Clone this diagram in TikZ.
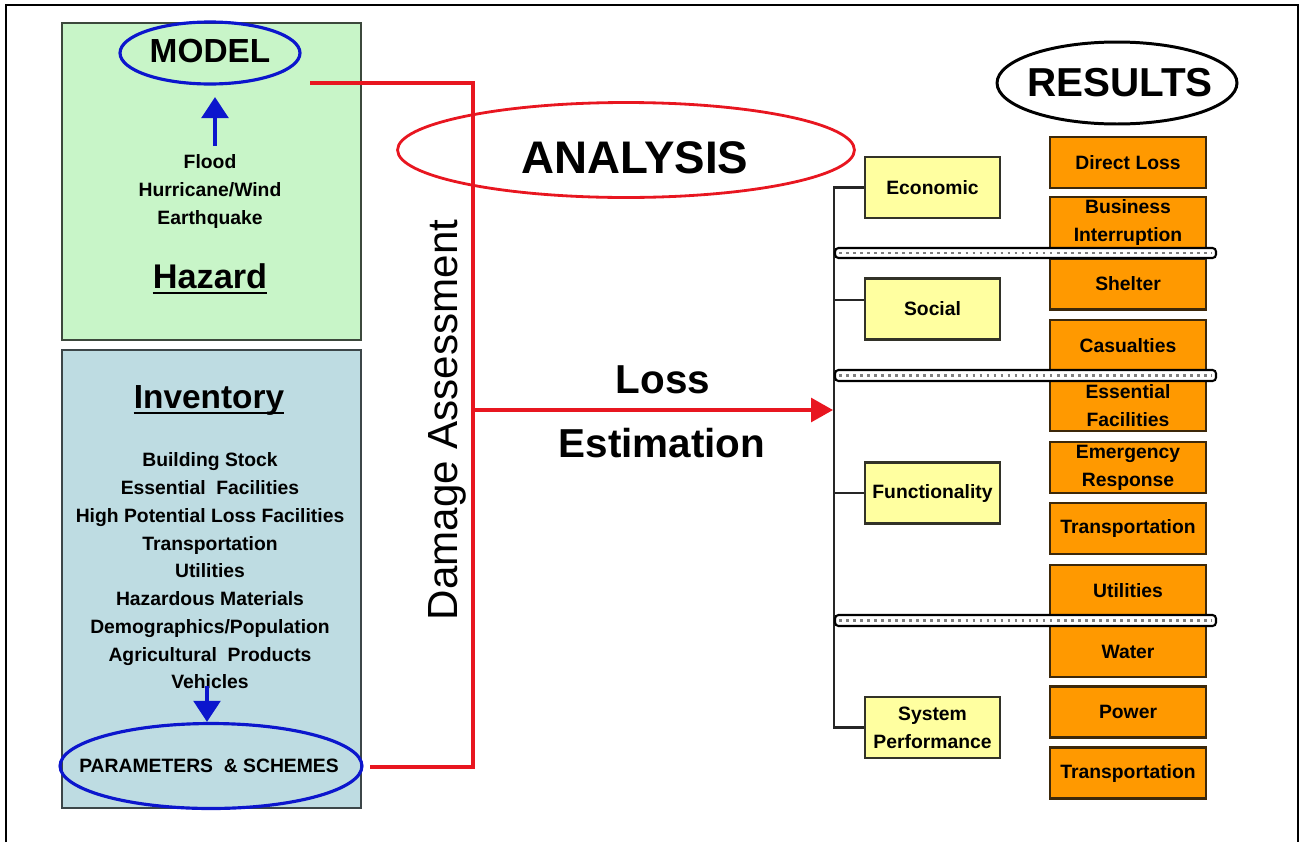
\documentclass[tikz,border=0pt]{standalone}
\usepackage{fontspec}
\setmainfont{Liberation Sans}
\usetikzlibrary{shapes.geometric,arrows.meta}
\definecolor{hzfill}{RGB}{200,245,200}
\definecolor{hzbord}{RGB}{60,72,60}
\definecolor{invfill}{RGB}{190,220,226}
\definecolor{invbord}{RGB}{60,70,72}
\definecolor{bluec}{RGB}{12,22,205}
\definecolor{redc}{RGB}{232,22,32}
\definecolor{yfill}{RGB}{255,255,160}
\definecolor{ybord}{RGB}{50,50,40}
\definecolor{orfill}{RGB}{255,153,0}
\definecolor{obord}{RGB}{60,40,10}
\tikzset{
 obox/.style={draw=obord, fill=orfill, line width=1.5pt, minimum width=3.12cm, minimum height=1.02cm, inner sep=0pt, align=center, font=\fontsize{11}{16}\selectfont\bfseries},
 ybox/.style={draw=ybord, fill=yfill, line width=1.3pt, minimum width=2.7cm, minimum height=1.22cm, inner sep=0pt, align=center, font=\fontsize{11}{16}\selectfont\bfseries},
 panel/.style={line width=1.5pt, inner sep=0pt, minimum width=5.98cm},
 smalltxt/.style={align=center, inner sep=0pt, font=\fontsize{11}{15.8}\selectfont\bfseries},
 redl/.style={draw=redc, line width=1.8pt},
 barrow/.style={draw=bluec, line width=2.6pt, -{Triangle[length=12pt,width=15pt]}},
 bandline/.style={draw=black, line width=1.2pt, fill=white, rounded corners=2pt},
 banddots/.style={draw=gray, line width=1.4pt, dash pattern=on 1.5pt off 2.5pt},
 busl/.style={draw=black!85, line width=1.2pt},
 ell/.style={ellipse, inner sep=0pt},
}
\begin{document}
\begin{tikzpicture}[x=0.02cm,y=-0.02cm]
\useasboundingbox (0,0) rectangle (1300,842);
% outer frame
\draw[line width=1.1pt] (6,842) -- (6,5) -- (1298,5) -- (1298,842);

% left panels
\node[panel, draw=hzbord, fill=hzfill, minimum height=6.34cm] (hzbox) at (211.5,181.5) {};
\node[panel, draw=invbord, fill=invfill, minimum height=9.16cm] (invbox) at (211.5,579) {};

% hazard panel content
\node[ell, draw=bluec, line width=1.8pt, minimum width=3.6cm, minimum height=1.24cm] (modelell) at (210,53) {};
\node[inner sep=0pt, font=\fontsize{19}{22}\selectfont\bfseries] (model) at (210,51) {MODEL};
\node[smalltxt] (hzl) at (210,191.5) {Flood\\Hurricane/Wind\\Earthquake};
\node[inner sep=0pt, font=\fontsize{19.5}{22}\selectfont\bfseries, anchor=base] (haz) at (210,288) {Hazard};
\draw[line width=1.2pt] ([yshift=-3pt]haz.base west) -- ([yshift=-3pt]haz.base east);
\coordinate (ha) at (215,146);
\coordinate (hb) at (215,97);
\draw[barrow] (ha) -- (hb);

% inventory panel content
\node[inner sep=0pt, font=\fontsize{19}{22}\selectfont\bfseries, anchor=base] (inv) at (209,408) {Inventory};
\draw[line width=1.2pt] ([yshift=-3pt]inv.base west) -- ([yshift=-3pt]inv.base east);
\node[smalltxt] (invl) at (210,571) {Building Stock\\Essential\ \ Facilities\\High Potential Loss Facilities\\Transportation\\Utilities\\Hazardous Materials\\Demographics/Population\\Agricultural\ \ Products\\Vehicles};
\node[ell, draw=bluec, line width=1.8pt, minimum width=6.04cm, minimum height=1.7cm] (paramsell) at (211,766) {};
\node[inner sep=0pt, font=\fontsize{11}{14}\selectfont\bfseries] (params) at (209,766) {PARAMETERS\ \ \& SCHEMES};
\coordinate (va) at (207,686);
\draw[barrow] (va) -- (paramsell.north -| va);

% red connectors
\coordinate (rm) at (310,83);
\coordinate (rj1) at (473,83);
\coordinate (rj2) at (473,767);
\coordinate (rp) at (370,767);
\coordinate (rmid) at (473,410);
\coordinate (bus) at (833,410);
\draw[redl] (rm) -- (rj1) -- (rj2) -- (rp);
\draw[redl, -{Triangle[length=12.5pt,width=13.6pt]}] (rmid) -- (bus);

% analysis
\node[ell, draw=redc, line width=1.6pt, minimum width=9.14cm, minimum height=1.9cm] (anaell) at (626,150) {};
\node[inner sep=0pt, font=\fontsize{26}{30}\selectfont\bfseries, anchor=base] (ana) at (635,173) {ANALYSIS};
\node[rotate=90, inner sep=0pt, anchor=base, font=\fontsize{24}{28}\selectfont] (dmg) at (457,420) {Damage Assessment};
\node[inner sep=0pt, font=\fontsize{23}{27}\selectfont\bfseries, anchor=base] (loss) at (663,393) {Loss};
\node[inner sep=0pt, font=\fontsize{23}{27}\selectfont\bfseries, anchor=base] (est) at (662,457) {Estimation};

% results header
\node[ell, draw=black, line width=1.7pt, minimum width=4.8cm, minimum height=1.64cm] (resell) at (1117,83) {};
\node[inner sep=0pt, font=\fontsize{23}{26}\selectfont\bfseries] (res) at (1120,83) {RESULTS};

% categories
\node[ybox] (econ) at (932.5,187.5) {Economic};
\node[ybox] (soc) at (932.5,309) {Social};
\node[ybox] (func) at (932.5,493) {Functionality};
\node[ybox] (sysp) at (932.5,727.5) {System\\Performance};
\draw[busl] (econ.west) -- ++(-30,0) |- (sysp.west);
\draw[busl] ([yshift=5pt]soc.west) -- ++(-30,0);
\draw[busl] (func.west) -- ++(-30,0);

% result boxes
\node[obox] (r1) at (1128,162.5) {Direct Loss};
\node[obox] (r2) at (1128,222.5) {Business\\Interruption};
\node[obox] (r3) at (1128,284) {Shelter};
\node[obox] (r4) at (1128,345.5) {Casualties};
\node[obox] (r5) at (1128,405.5) {Essential\\Facilities};
\node[obox] (r6) at (1128,467.5) {Emergency\\Response};
\node[obox] (r7) at (1128,528.5) {Transportation};
\node[obox] (r8) at (1128,590.5) {Utilities};
\node[obox] (r9) at (1128,651.5) {Water};
\node[obox] (r10) at (1128,712) {Power};
\node[obox] (r11) at (1128,773) {Transportation};

% separator bands
\foreach \yt/\yb in {248/258, 370/381, 615/626}{
  \draw[bandline] (835,\yt) rectangle (1216,\yb);
  \draw[banddots] (839,{(\yt+\yb)/2}) -- (1212,{(\yt+\yb)/2});
}
\end{tikzpicture}
\end{document}
